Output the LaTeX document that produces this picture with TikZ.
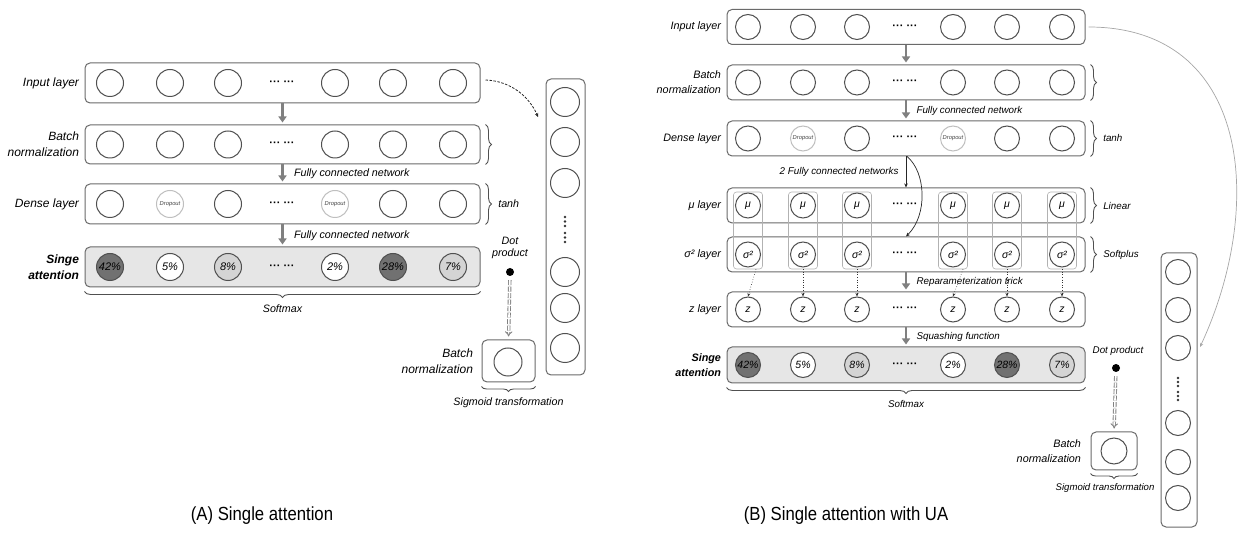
\documentclass[tikz,border=0pt]{standalone}
\usepackage{fontspec}
\setmainfont{Liberation Sans}
\newfontfamily\capfont{Liberation Sans}[FakeStretch=0.88]
\usetikzlibrary{arrows.meta,decorations.pathreplacing,calc}

\definecolor{boxgray}{HTML}{6A6A6A}
\definecolor{unitgray}{HTML}{505050}
\definecolor{flowgray}{HTML}{808080}
\definecolor{attfill}{HTML}{E6E6E6}
\definecolor{hotfill}{HTML}{717171}
\definecolor{warmfill}{HTML}{D4D4D4}

\tikzset{
  layerbox/.style={draw=boxgray, rounded corners=5pt, line width=1pt, inner sep=0pt},
  colbox/.style={draw=gray!60, rounded corners=3pt, line width=0.6pt, minimum width=29pt, minimum height=77pt},
  unitA/.style={circle, draw=unitgray, line width=1pt, minimum size=27pt, inner sep=0pt, font=\itshape\fontsize{11}{11}\selectfont},
  unitB/.style={unitA, minimum size=25pt, font=\itshape\fontsize{10.5}{11}\selectfont},
  dropunit/.style={draw=gray!50, text=black!75, font=\itshape\fontsize{5.8}{6}\selectfont},
  hdots/.style={font=\bfseries\fontsize{11}{11}\selectfont},
  rowlabA/.style={anchor=east, align=right, font=\itshape\fontsize{12}{16}\selectfont},
  rowlabB/.style={anchor=east, align=right, font=\itshape\fontsize{10.8}{15}\selectfont},
  flowlabA/.style={anchor=west, font=\itshape\fontsize{10.7}{12}\selectfont},
  flowlabB/.style={anchor=west, font=\itshape\fontsize{9.8}{11}\selectfont},
  flow/.style={draw=flowgray, line width=2.2pt, -{Triangle[length=6pt,width=8pt]}, shorten >=2pt},
  thinarrow/.style={draw=black!85, line width=0.7pt, -{Stealth[length=4pt,width=3.5pt]}},
  bracket/.style={decorate, decoration={brace, amplitude=6pt}, draw=unitgray, line width=0.9pt},
  dbl/.style={draw=flowgray, double=white, double distance=1.6pt, line width=0.9pt,
    dash pattern=on 5pt off 1.5pt, -Implies, shorten <=4pt, shorten >=3pt},
  bullet/.style={circle, fill=black, minimum size=8pt, inner sep=0pt}
}

\begin{document}
\begin{tikzpicture}[x=1pt, y=-1pt, >=stealth]
  % --- LIENZO ---
  \useasboundingbox (0,0) rectangle (1243,534);

  % ======================= (A) =======================
  % --- CAPAS ---
  \node[layerbox, minimum width=395pt, minimum height=40pt] (inA) at (282.5,83) {};
  \node[layerbox, minimum width=395pt, minimum height=39pt] (bnA) at (282.5,144.5) {};
  \node[layerbox, minimum width=395pt, minimum height=40pt] (dnA) at (282.5,204) {};
  \node[layerbox, fill=attfill, minimum width=395pt, minimum height=40pt] (atA) at (282.5,267) {};

  % --- NEURONAS ---
  \foreach \x [count=\i] in {110,170,228,335,393,453} {
    \node[unitA] (inA\i) at (\x,83) {};
    \node[unitA] (bnA\i) at (\x,144.5) {};
  }
  \foreach \x [count=\i] in {110,228,393,453}
    \node[unitA] (dnA\i) at (\x,204) {};
  \node[unitA, dropunit] (doA1) at (170,204) {Dropout};
  \node[unitA, dropunit] (doA2) at (335,204) {Dropout};
  \foreach \x/\p/\c [count=\i] in {110/42/hotfill, 170/5/white, 228/8/warmfill,
                                   335/2/white, 393/28/hotfill, 453/7/warmfill}
    \node[unitA, fill=\c] (atA\i) at (\x,267) {\p\%};
  \foreach \r/\y in {inA/83, bnA/144.5, dnA/204, atA/267}
    \node[hdots] (\r-dots) at (282,\y) {··· ···};

  % --- ETIQUETAS ---
  \node[rowlabA] (labInA) at ([xshift=-2pt]inA.west) {Input layer};
  \node[rowlabA] (labBnA) at ([xshift=-2pt]bnA.west) {Batch\\normalization};
  \node[rowlabA] (labDnA) at ([xshift=-2pt]dnA.west) {Dense layer};
  \node[rowlabA, font=\bfseries\itshape\fontsize{12}{16}\selectfont] (labAtA) at ([xshift=-2pt]atA.west) {Singe\\attention};

  % --- FLUJO ---
  \draw[flow] (inA.south) -- (bnA.north);
  \draw[flow] (bnA.south) -- (dnA.north);
  \draw[flow] (dnA.south) -- (atA.north);
  \node[flowlabA] (fcA1) at ($(bnA.south)!0.5!(dnA.north)+(8,0)$) {Fully connected network};
  \node[flowlabA] (fcA2) at ($(dnA.south)!0.5!(atA.north)+(8,0)$) {Fully connected network};

  % --- LLAVES ---
  \draw[bracket] ([xshift=5pt]bnA.north east) -- ([xshift=5pt]bnA.south east);
  \draw[bracket] ([xshift=5pt]dnA.north east) -- ([xshift=5pt]dnA.south east)
    node[midway, right=9pt, font=\itshape\fontsize{10.7}{12}\selectfont] (thA) {tanh};
  \draw[bracket] ([yshift=-4pt]atA.south east) -- ([yshift=-4pt]atA.south west)
    node[midway, below=9pt, font=\itshape\fontsize{10.7}{12}\selectfont] (smA) {Softmax};

  % --- VECTOR DE SALIDA ---
  \node[layerbox, minimum width=39pt, minimum height=296pt] (vecA) at (565.5,227) {};
  \foreach \y [count=\i] in {102,142,183,272,308,348}
    \node[unitA, minimum size=29pt] (vecA\i) at (565,\y) {};
  \foreach \y in {217,221.5,226,233,237.5,242}
    \fill[black!80] (565,\y) circle (1.4pt);
  \coordinate (vecAin) at (538,117);
  \draw[black!85, line width=0.8pt, dash pattern=on 2.5pt off 1.5pt, -{Stealth[length=4pt,width=3.5pt]}]
    ([xshift=5pt,yshift=3pt]inA.east) .. controls (512,81) and (530,98) .. (vecAin);

  % --- PRODUCTO PUNTO ---
  \node[flowlabA, anchor=center, align=center] (dpA) at (510,248) {Dot\\product};
  \node[bullet] (dotA) at (510,272) {};
  \node[layerbox, minimum width=53pt, minimum height=42pt] (bnsA) at (508.5,361) {};
  \node[unitA, minimum size=28pt] (bnsA1) at (508,362) {};
  \draw[dbl] (dotA) -- (bnsA.north);
  \node[rowlabA] (labBnsA) at ([xshift=-5pt]bnsA.west) {Batch\\normalization};
  \draw[bracket, decoration={brace, amplitude=5pt}] ([yshift=-4pt]bnsA.south east) -- ([yshift=-4pt]bnsA.south west)
    node[midway, below=7pt, font=\itshape\fontsize{10.7}{12}\selectfont] (sgA) {Sigmoid transformation};

  % ======================= (B) =======================
  % --- CAPAS ---
  \foreach \r/\y in {inB/27, bnB/82.5, dnB/138.5, muB/205.5, sgB/254.5, zB/309.5}
    \node[layerbox, minimum width=358pt, minimum height=35pt] (\r) at (906,\y) {};
  \node[layerbox, fill=attfill, minimum width=358pt, minimum height=36pt] (atB) at (906,365) {};

  % --- COLUMNAS mu / sigma ---
  \foreach \x [count=\i] in {748,803,857,953,1007,1062}
    \node[colbox] (colB\i) at (\x,230.5) {};

  % --- NEURONAS ---
  \foreach \x [count=\i] in {748,803,857,953,1007,1062} {
    \node[unitB] (inB\i) at (\x,27) {};
    \node[unitB] (bnB\i) at (\x,82.5) {};
    \node[unitB] (muB\i) at (\x,205.5) {μ};
    \node[unitB] (sgB\i) at (\x,254.5) {σ²};
    \node[unitB] (zB\i) at (\x,309.5) {z};
  }
  \foreach \x [count=\i] in {748,857,1007,1062}
    \node[unitB] (dnB\i) at (\x,138.5) {};
  \node[unitB, dropunit] (doB1) at (803,138.5) {Dropout};
  \node[unitB, dropunit] (doB2) at (953,138.5) {Dropout};
  \foreach \x/\p/\c [count=\i] in {748/42/hotfill, 803/5/white, 857/8/warmfill,
                                   953/2/white, 1007/28/hotfill, 1062/7/warmfill}
    \node[unitB, fill=\c] (atB\i) at (\x,365) {\p\%};
  \foreach \r/\y in {inB/27, bnB/82.5, dnB/138.5, muB/205.5, sgB/254.5, zB/309.5, atB/365}
    \node[hdots] (\r-dots) at (905,\y) {··· ···};

  % --- ETIQUETAS ---
  \node[rowlabB] (labInB) at ([xshift=-2pt]inB.west) {Input layer};
  \node[rowlabB] (labBnB) at ([xshift=-2pt]bnB.west) {Batch\\normalization};
  \node[rowlabB] (labDnB) at ([xshift=-2pt]dnB.west) {Dense layer};
  \node[rowlabB] (labMuB) at ([xshift=-2pt]muB.west) {μ layer};
  \node[rowlabB] (labSgB) at ([xshift=-2pt]sgB.west) {σ² layer};
  \node[rowlabB] (labZB) at ([xshift=-2pt]zB.west) {z layer};
  \node[rowlabB, font=\bfseries\itshape\fontsize{10.8}{15}\selectfont] (labAtB) at ([xshift=-2pt]atB.west) {Singe\\attention};

  % --- FLUJO ---
  \draw[flow] (inB.south) -- (bnB.north);
  \draw[flow] (bnB.south) -- (dnB.north);
  \draw[flow] (sgB.south) -- (zB.north);
  \draw[flow] (zB.south) -- (atB.north);
  \node[flowlabB] (fcB) at ($(bnB.south)!0.5!(dnB.north)+(7,0)$) {Fully connected network};
  \node[flowlabB] (rpB) at ($(sgB.south)!0.5!(zB.north)+(7,0)$) {Reparameterization trick};
  \node[flowlabB] (sqB) at ($(zB.south)!0.5!(atB.north)+(7,0)$) {Squashing function};

  % --- DOS REDES ---
  \draw[thinarrow] (dnB.south) -- (muB.north);
  \node[flowlabB, anchor=east] (fc2B) at ($(dnB.south)!0.5!(muB.north)+(-4,0)$) {2 Fully connected networks};
  \draw[thinarrow] ([xshift=1pt]dnB.south) .. controls (926,172) and (928,215) .. (sgB.north);

  % --- MUESTREO ---
  \foreach \i/\dx in {1/8, 2/0, 3/0, 4/10, 5/0, 6/0}
    \draw[black!80, line width=0.6pt, dotted, -{Stealth[length=3.5pt,width=3pt]}]
      ([xshift=\dx pt]colB\i.south) -- (zB\i.north);

  % --- LLAVES ---
  \draw[bracket] ([xshift=5pt]bnB.north east) -- ([xshift=5pt]bnB.south east);
  \draw[bracket] ([xshift=5pt]dnB.north east) -- ([xshift=5pt]dnB.south east)
    node[midway, right=9pt, font=\itshape\fontsize{9.8}{11}\selectfont] (thB) {tanh};
  \draw[bracket] ([xshift=5pt]muB.north east) -- ([xshift=5pt]muB.south east)
    node[midway, right=9pt, font=\itshape\fontsize{9.8}{11}\selectfont] (liB) {Linear};
  \draw[bracket] ([xshift=5pt]sgB.north east) -- ([xshift=5pt]sgB.south east)
    node[midway, right=9pt, font=\itshape\fontsize{9.8}{11}\selectfont] (spB) {Softplus};
  \draw[bracket] ([yshift=-4pt]atB.south east) -- ([yshift=-4pt]atB.south west)
    node[midway, below=9pt, font=\itshape\fontsize{9.8}{11}\selectfont] (smB) {Softmax};

  % --- VECTOR DE SALIDA ---
  \node[layerbox, minimum width=36pt, minimum height=274pt] (vecB) at (1179,390) {};
  \foreach \y [count=\i] in {272,310,348,423,462,498}
    \node[unitB] (vecB\i) at (1178,\y) {};
  \foreach \y in {378,382,386,392,396,400}
    \fill[black!80] (1178,\y) circle (1.3pt);
  \coordinate (vecBin) at (1200,347);
  \draw[gray!70, line width=0.7pt, -{Stealth[length=4pt,width=3.5pt]}]
    ([xshift=3pt]inB.east) .. controls (1250,27) and (1266,205) .. (vecBin);

  % --- PRODUCTO PUNTO ---
  \node[flowlabB, anchor=center] (dpB) at (1118,351) {Dot product};
  \node[bullet] (dotB) at (1116,368) {};
  \node[layerbox, minimum width=46pt, minimum height=38pt] (bnsB) at (1114,451) {};
  \node[unitB, minimum size=26pt] (bnsB1) at (1114,451) {};
  \draw[dbl] (dotB) -- (bnsB.north);
  \node[rowlabB] (labBnsB) at ([xshift=-6pt]bnsB.west) {Batch\\normalization};
  \draw[bracket, decoration={brace, amplitude=5pt}] ([yshift=-3pt]bnsB.south east) -- ([yshift=-3pt]bnsB.south west)
    node[midway, below=6pt, xshift=-9pt, font=\itshape\fontsize{9.6}{11}\selectfont] (sgmB) {Sigmoid transformation};

  % --- TITULOS ---
  \node[font=\capfont\fontsize{19}{20}\selectfont] (capA) at (262,516) {(A) Single attention};
  \node[font=\capfont\fontsize{19}{20}\selectfont] (capB) at (846,516) {(B) Single attention with UA};
\end{tikzpicture}
\end{document}
